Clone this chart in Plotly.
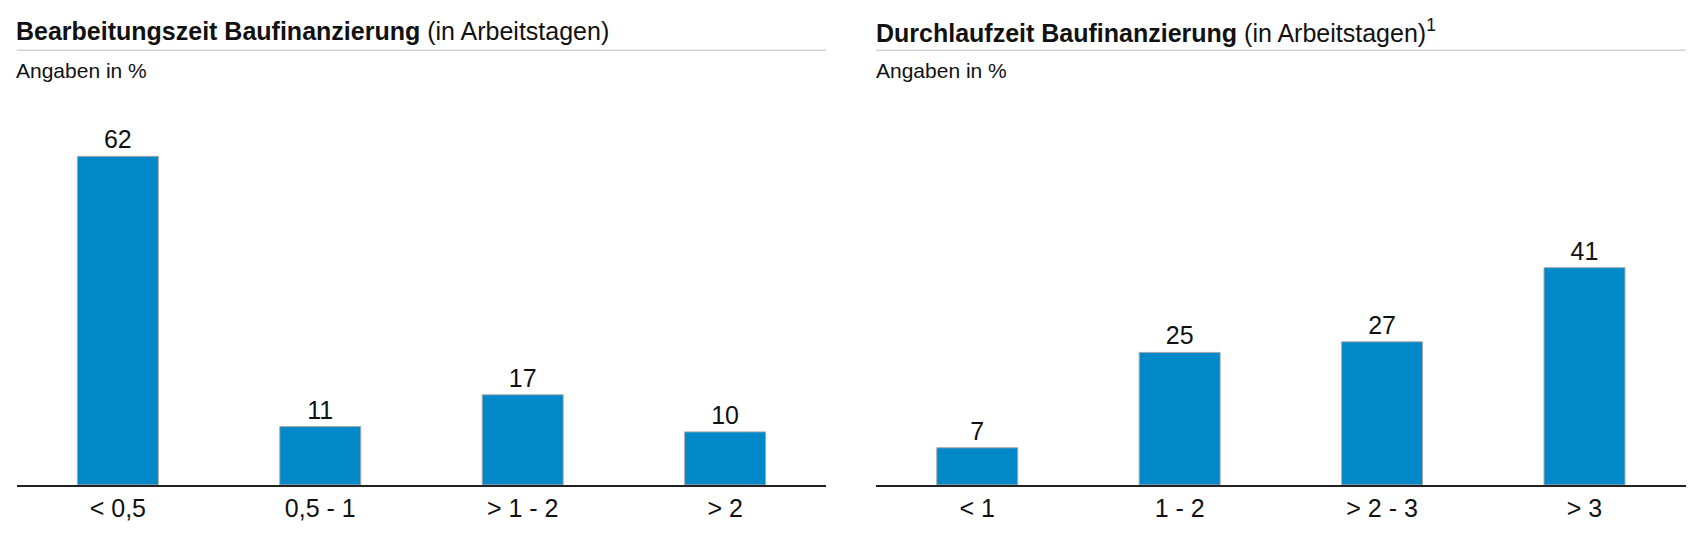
import plotly.graph_objects as go

cats_left = ["< 0,5", "0,5 - 1", "> 1 - 2", "> 2"]
vals_left = [62, 11, 17, 10]
cats_right = ["< 1", "1 - 2", "> 2 - 3", "> 3"]
vals_right = [7, 25, 27, 41]

W, H = 1695, 545
# reference coordinates were read from a scaled view
RW, RH = 1568, 504
font = "Liberation Sans, Arial, sans-serif"
blue = "#0088c8"

def px_x(p):
    return p / RW

def px_y(p):
    return 1 - p / RH

fig = go.Figure()
fig.add_trace(go.Bar(x=cats_left, y=vals_left, xaxis="x", yaxis="y",
                     text=vals_left, textposition="outside", cliponaxis=False))
fig.add_trace(go.Bar(x=cats_right, y=vals_right, xaxis="x2", yaxis="y2",
                     text=vals_right, textposition="outside", cliponaxis=False))
fig.update_traces(marker_color=blue, marker_line_color="#a8a8a8", marker_line_width=1,
                  width=0.4, textfont=dict(size=25, color="#111"))

ydom = [px_y(441), px_y(73.5)]
axis_common = dict(showgrid=False, zeroline=False, ticks="", showline=True,
                   linecolor="#222", linewidth=2, tickfont=dict(size=25, color="#111"))
fig.update_layout(
    width=W, height=H, margin=dict(l=0, r=0, t=0, b=0),
    plot_bgcolor="white", paper_bgcolor="white", showlegend=False,
    font=dict(family=font, color="#111"),
    xaxis=dict(domain=[px_x(8), px_x(757)], anchor="y", **axis_common),
    xaxis2=dict(domain=[px_x(803), px_x(1552)], anchor="y2", **axis_common),
    yaxis=dict(domain=ydom, range=[0, 75], visible=False, anchor="x"),
    yaxis2=dict(domain=ydom, range=[0, 75], visible=False, anchor="x2"),
)

titles = [(8, 757, "<b>Bearbeitungszeit Baufinanzierung</b> (in Arbeitstagen)"),
          (803, 1552, "<b>Durchlaufzeit Baufinanzierung</b> (in Arbeitstagen)<sup>1</sup>")]
for x0, x1, t in titles:
    fig.add_annotation(x=px_x(x0 - 2), y=px_y(21), xref="paper", yref="paper", text=t,
                       showarrow=False, xanchor="left", yanchor="middle",
                       font=dict(size=25, color="#111"))
    fig.add_annotation(x=px_x(x0 - 2), y=px_y(58), xref="paper", yref="paper",
                       text="Angaben in %", showarrow=False, xanchor="left",
                       yanchor="middle", font=dict(size=21, color="#111"))
    fig.add_shape(type="line", xref="paper", yref="paper", x0=px_x(x0), x1=px_x(x1),
                  y0=px_y(39), y1=px_y(39), line=dict(color="#bdbdbd", width=1))

fig.write_html("out.html")
